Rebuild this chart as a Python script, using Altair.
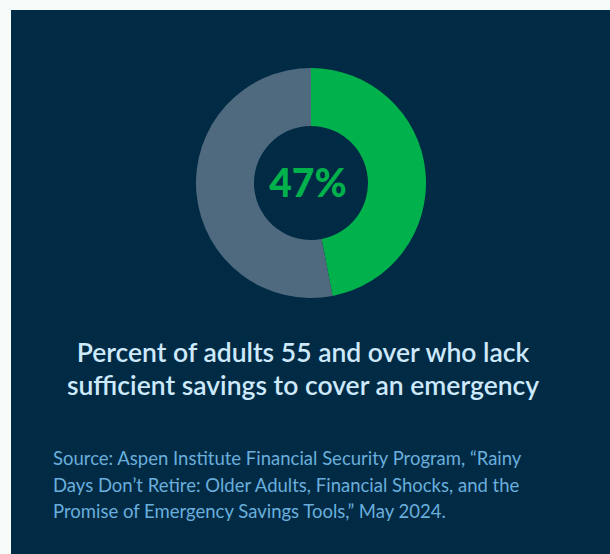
import altair as alt
import pandas as pd

# Data
categories = ["Lack sufficient savings", "Other"]
values = [47, 53]
center_label = ["47%"]
title_lines = ["Percent of adults 55 and over who lack",
               "sufficient savings to cover an emergency"]
source_lines = ["Source: Aspen Institute Financial Security Program, \u201cRainy",
                "Days Don\u2019t Retire: Older Adults, Financial Shocks, and the",
                "Promise of Emergency Savings Tools,\u201d May 2024."]

BG = "#012b45"
GREEN = "#00b14c"
GRAY = "#4f6a7e"
FONT = "Lato"

arc_df = pd.DataFrame({"category": categories, "value": values, "order": list(range(len(categories)))})
label_df = pd.DataFrame({"label": center_label})
title_df = pd.DataFrame({"text": ["\n".join(title_lines)]})
source_df = pd.DataFrame({"text": ["\n".join(source_lines)]})

donut = alt.Chart(arc_df).mark_arc(outerRadius=115, innerRadius=57, stroke=None).encode(
    theta=alt.Theta("value:Q", stack=True),
    order=alt.Order("order:Q"),
    color=alt.Color("category:N", scale=alt.Scale(domain=categories, range=[GREEN, GRAY]), legend=None),
    x=alt.value(300),
    y=alt.value(173),
)

center = alt.Chart(label_df).mark_text(
    font=FONT, fontSize=39, fontWeight=900, color=GREEN, align="center", baseline="middle"
).encode(text="label:N", x=alt.value(297), y=alt.value(175))

title = alt.Chart(title_df).mark_text(
    font=FONT, fontSize=26.5, fontWeight=600, color="#cde9fb", align="center",
    baseline="alphabetic", lineBreak="\n", lineHeight=33
).encode(text="text:N", x=alt.value(292), y=alt.value(352))

source = alt.Chart(source_df).mark_text(
    font=FONT, fontSize=18.5, fontWeight=400, color="#6aaedc", align="left",
    baseline="alphabetic", lineBreak="\n", lineHeight=26.5
).encode(text="text:N", x=alt.value(42), y=alt.value(455))

chart = alt.layer(donut, center, title, source).properties(
    width=599, height=544,
    autosize=alt.AutoSizeParams(type="none"),
    padding={"left": 11, "top": 10, "right": 0, "bottom": 0},
    background="#f5fbf8",
).configure_view(fill=BG, stroke=None)

chart.save("out.html", embed_options={"renderer": "svg", "actions": False})
